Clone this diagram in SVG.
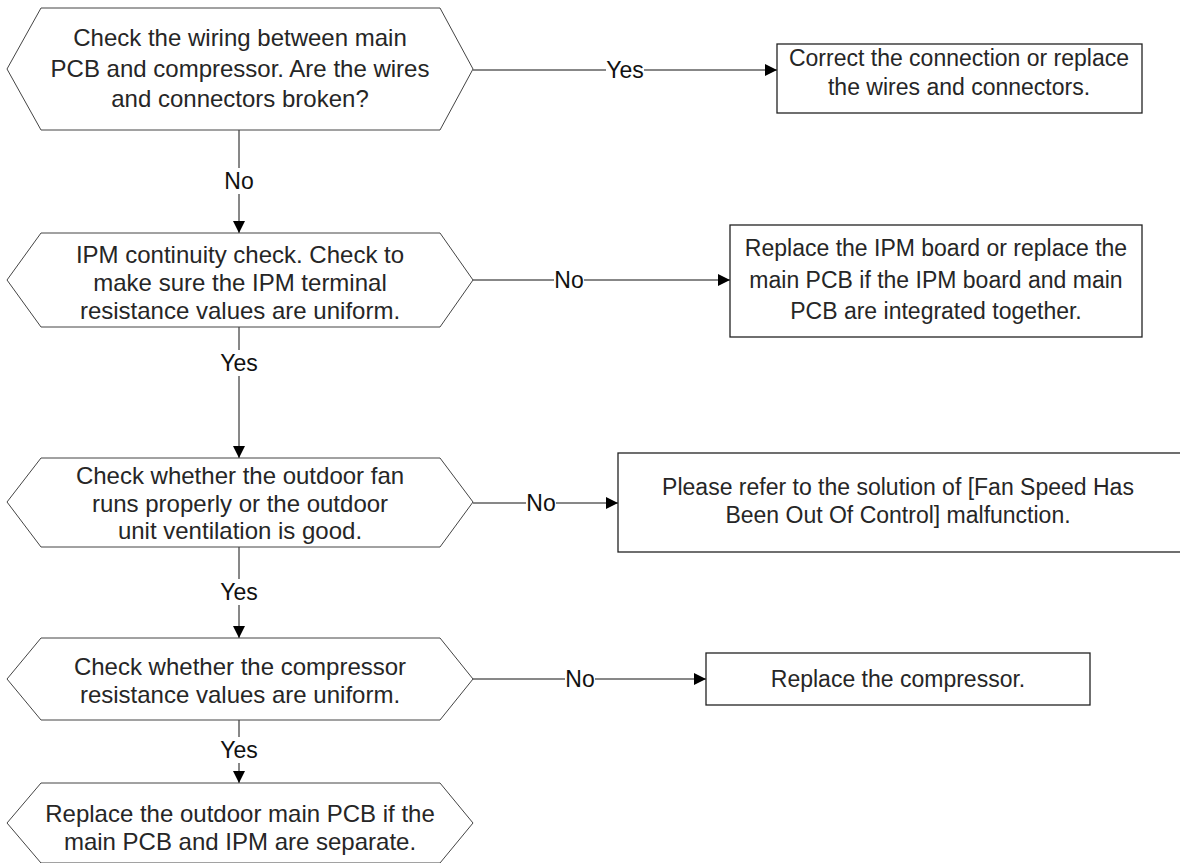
<svg xmlns="http://www.w3.org/2000/svg" width="1180" height="863" viewBox="0 0 1180 863">
<defs>
<style>
.hex{fill:#fff;stroke:#444;stroke-width:1}
.box{fill:#fff;stroke:#222;stroke-width:1.3}
.t{font-family:"Liberation Sans",Arial,sans-serif;font-size:24px;fill:#262626;text-anchor:middle}
.bt{font-family:"Liberation Sans",Arial,sans-serif;font-size:23px;fill:#262626;text-anchor:middle}
.lbl{font-family:"Liberation Sans",Arial,sans-serif;font-size:23px;fill:#111;text-anchor:middle}
.ln{stroke:#111;stroke-width:1;fill:none}
.bg{fill:#fff}
</style>
<marker id="ah" viewBox="0 0 10 10" refX="10" refY="5" markerWidth="12" markerHeight="12" markerUnits="userSpaceOnUse" orient="auto"><path d="M0,0L10,5L0,10z" fill="#000"/></marker>
</defs>
<rect width="1180" height="863" fill="#fff"/>
<g id="connectors">
<path class="ln" d="M473,70H777" marker-end="url(#ah)"/>
<rect class="bg" x="606" y="58" width="38" height="24"/>
<text class="lbl" x="625" y="78">Yes</text>
<path class="ln" d="M239,130V233" marker-end="url(#ah)"/>
<rect class="bg" x="222" y="168" width="34" height="26"/>
<text class="lbl" x="239" y="189">No</text>
<path class="ln" d="M473,280H730" marker-end="url(#ah)"/>
<rect class="bg" x="554" y="268" width="30" height="24"/>
<text class="lbl" x="569" y="288">No</text>
<path class="ln" d="M239,327V458" marker-end="url(#ah)"/>
<rect class="bg" x="220" y="350" width="38" height="26"/>
<text class="lbl" x="239" y="371">Yes</text>
<path class="ln" d="M473,503H618" marker-end="url(#ah)"/>
<rect class="bg" x="526" y="491" width="30" height="24"/>
<text class="lbl" x="541" y="511">No</text>
<path class="ln" d="M239,547V638" marker-end="url(#ah)"/>
<rect class="bg" x="220" y="579" width="38" height="26"/>
<text class="lbl" x="239" y="600">Yes</text>
<path class="ln" d="M473,679H706" marker-end="url(#ah)"/>
<rect class="bg" x="565" y="667" width="30" height="24"/>
<text class="lbl" x="580" y="687">No</text>
<path class="ln" d="M239,720V783" marker-end="url(#ah)"/>
<rect class="bg" x="220" y="737" width="38" height="26"/>
<text class="lbl" x="239" y="758">Yes</text>
</g>
<g id="n1">
<polygon class="hex" points="7,69 41,8 440,8 473,69 440,130 41,130"/>
<text class="t" x="240" y="46">Check the wiring between main</text>
<text class="t" x="240" y="77">PCB and compressor. Are the wires</text>
<text class="t" x="240" y="107">and connectors broken?</text>
</g>
<g id="n2">
<rect class="box" x="777" y="44" width="365" height="69"/>
<text class="bt" x="959" y="66">Correct the connection or replace</text>
<text class="bt" x="959" y="95">the wires and connectors.</text>
</g>
<g id="n3">
<polygon class="hex" points="7,280 41,233 440,233 473,280 440,327 41,327"/>
<text class="t" x="240" y="263">IPM continuity check. Check to</text>
<text class="t" x="240" y="291">make sure the IPM terminal</text>
<text class="t" x="240" y="319">resistance values are uniform.</text>
</g>
<g id="n4">
<rect class="box" x="730" y="225" width="412" height="112"/>
<text class="bt" x="936" y="256">Replace the IPM board or replace the</text>
<text class="bt" x="936" y="288">main PCB if the IPM board and main</text>
<text class="bt" x="936" y="319">PCB are integrated together.</text>
</g>
<g id="n5">
<polygon class="hex" points="7,502 41,458 440,458 473,502 440,547 41,547"/>
<text class="t" x="240" y="484">Check whether the outdoor fan</text>
<text class="t" x="240" y="512">runs properly or the outdoor</text>
<text class="t" x="240" y="539">unit ventilation is good.</text>
</g>
<g id="n6">
<rect class="box" x="618" y="453" width="570" height="99"/>
<text class="bt" x="898" y="495">Please refer to the solution of [Fan Speed Has</text>
<text class="bt" x="898" y="523">Been Out Of Control] malfunction.</text>
</g>
<g id="n7">
<polygon class="hex" points="7,679 41,638 440,638 473,679 440,720 41,720"/>
<text class="t" x="240" y="675">Check whether the compressor</text>
<text class="t" x="240" y="703">resistance values are uniform.</text>
</g>
<g id="n8">
<rect class="box" x="706" y="653" width="384" height="52"/>
<text class="bt" x="898" y="687">Replace the compressor.</text>
</g>
<g id="n9">
<polygon class="hex" points="7,823 41,783 440,783 473,823 440,863 41,863"/>
<text class="t" x="240" y="822">Replace the outdoor main PCB if the</text>
<text class="t" x="240" y="850">main PCB and IPM are separate.</text>
</g>
</svg>
